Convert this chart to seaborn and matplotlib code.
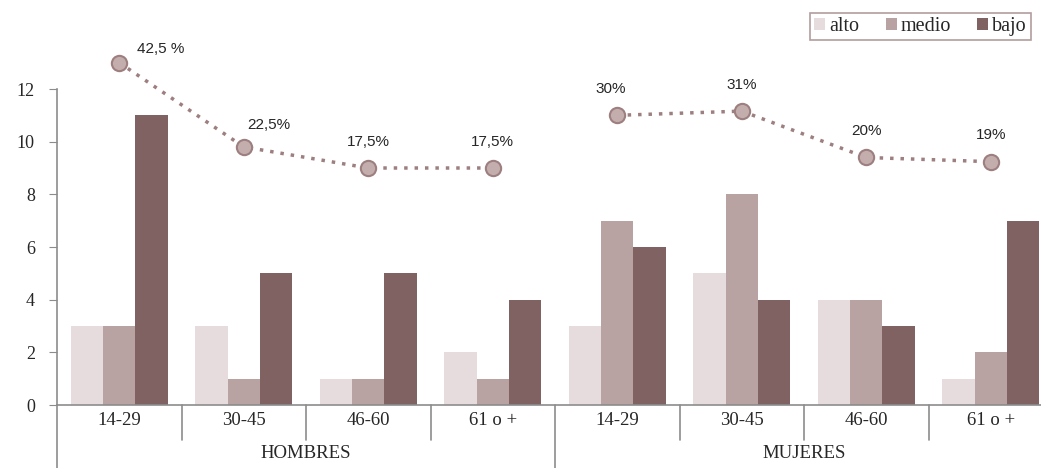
import pandas as pd
import matplotlib
matplotlib.use("Agg")
import matplotlib.pyplot as plt
import matplotlib.transforms as mtransforms
import seaborn as sns

# Data
grupos = ["HOMBRES", "MUJERES"]
edades = ["14-29", "30-45", "46-60", "61 o +"]
niveles = ["alto", "medio", "bajo"]
alto = [3, 3, 1, 2, 3, 5, 4, 1]
medio = [3, 1, 1, 1, 7, 8, 4, 2]
bajo = [11, 5, 5, 4, 6, 4, 3, 7]
porcentaje = [42.5, 22.5, 17.5, 17.5, 30, 31, 20, 19]
etiquetas_pct = ["42,5 %", "22,5%", "17,5%", "17,5%", "30%", "31%", "20%", "19%"]

colores = ["#E6DCDD", "#B8A2A2", "#806263"]
gris = "#8C8C8C"

# Build long table for seaborn
claves = [g + " " + e for g in grupos for e in edades]
df = pd.DataFrame({"clave": claves, "alto": alto, "medio": medio, "bajo": bajo})
df = df.melt(id_vars="clave", value_vars=niveles, var_name="nivel", value_name="n")

sns.set_style("white")
plt.rcParams["font.family"] = ["Liberation Serif", "DejaVu Serif"]

fig = plt.figure(figsize=(10.41, 4.68), dpi=100)
# plot area runs slightly past the right edge, as in the original
ax = fig.add_axes([57 / 1041, 63 / 468, 996 / 1041, 316 / 468])

sns.barplot(data=df, x="clave", y="n", hue="nivel", order=claves, hue_order=niveles,
            palette=colores, width=0.78, saturation=1, linewidth=0, ax=ax, legend=True)

ax.set_ylim(0, 12)
ax.set_xlim(-0.5, 7.5)
ax.set_yticks(range(0, 13, 2))
ax.tick_params(axis="y", left=True, length=6, color=gris, labelsize=13, pad=10)
ax.set_xlabel("")
ax.set_ylabel("")
ax.set_xticks([])
for s in ["top", "right"]:
    ax.spines[s].set_visible(False)
for s in ["left", "bottom"]:
    ax.spines[s].set_color(gris)
    ax.spines[s].set_linewidth(1.2)

# category separators and two-level labels
trans = mtransforms.blended_transform_factory(ax.transData, ax.transAxes)
for i in range(1, 8):
    bajo_lim = -0.2 if i == 4 else -0.11
    ax.plot([i - 0.5, i - 0.5], [0, bajo_lim], color=gris, lw=1.2, transform=trans, clip_on=False)
ax.plot([-0.5, -0.5], [0, -0.2], color=gris, lw=1.2, transform=trans, clip_on=False)
for i, c in enumerate(claves):
    ax.text(i, -0.05, c.split(" ", 1)[1], transform=trans, ha="center", va="center", fontsize=13.5)
for j, g in enumerate(grupos):
    ax.text(j * 4 + 1.5, -0.155, g, transform=trans, ha="center", va="center", fontsize=13.5)

# legend
handles, labels = ax.get_legend_handles_labels()
ax.get_legend().remove()
leg = fig.legend(handles, labels, loc="upper right", bbox_to_anchor=(1031 / 1041, 1 - 13 / 468),
                 ncol=3, frameon=True, fancybox=False, fontsize=14.5, handlelength=0.55,
                 handleheight=0.55, handletextpad=0.2, columnspacing=1.3, borderpad=0.2,
                 borderaxespad=0)
leg.get_frame().set_edgecolor("#A08585")
leg.get_frame().set_linewidth(1.2)

# percentage line on a hidden secondary axis
ax2 = ax.twinx()
ax2.set_ylim((0 - 6.2) / 0.16, (12 - 6.2) / 0.16)
ax2.axis("off")
offsets = [(30, 5), (18, 11), (0, 14), (0, 14), (-5, 14), (0, 14), (0, 14), (0, 14)]
for j in range(2):
    xs = list(range(j * 4, j * 4 + 4))
    ys = porcentaje[j * 4:j * 4 + 4]
    sns.lineplot(x=xs, y=ys, ax=ax2, color="#9E7F80", linestyle=(0, (1, 2)), linewidth=2.5,
                 marker="o", markersize=11, markerfacecolor="#C4ADAD", markeredgecolor="#9E7F80",
                 markeredgewidth=1.5, clip_on=False)
for i, (p, t) in enumerate(zip(porcentaje, etiquetas_pct)):
    ax2.annotate(t, (i, p), xytext=offsets[i], textcoords="offset points", ha="center",
                 va="bottom", fontsize=11, family=["Liberation Sans", "DejaVu Sans"],
                 annotation_clip=False)

fig.savefig("out.png", dpi=100)
